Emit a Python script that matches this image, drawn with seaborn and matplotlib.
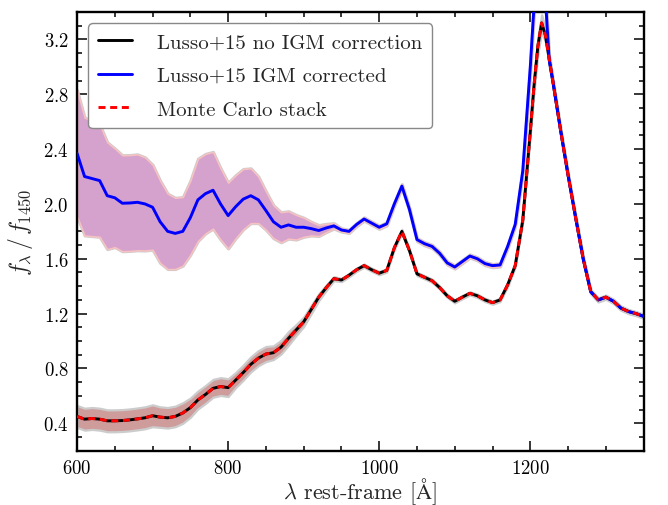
import numpy as np
import matplotlib
matplotlib.use("Agg")
import matplotlib.pyplot as plt
import seaborn as sns
from matplotlib.ticker import MultipleLocator

# ---------------- data ----------------
wave = [600, 610, 620, 630, 640, 650, 660, 670, 680, 690,
        700, 710, 720, 730, 740, 750, 760, 770, 780, 790,
        800, 810, 820, 830, 840, 850, 860, 870, 880, 890,
        900, 910, 920, 930, 940, 950, 960, 970, 980, 990,
        1000, 1010, 1020, 1030, 1040, 1050, 1060, 1070, 1080, 1090,
        1100, 1110, 1120, 1130, 1140, 1150, 1160, 1170, 1180, 1190,
        1200, 1205, 1210, 1215, 1220, 1225, 1230, 1240, 1250, 1260,
        1270, 1280, 1290, 1300, 1310, 1320, 1330, 1340, 1350]

flux_no_igm = [0.45, 0.43, 0.435, 0.43, 0.418, 0.418, 0.42, 0.425, 0.432, 0.44,
               0.455, 0.445, 0.44, 0.45, 0.475, 0.514, 0.57, 0.61, 0.655, 0.668,
               0.66, 0.715, 0.77, 0.83, 0.875, 0.905, 0.915, 0.955, 1.02, 1.08,
               1.14, 1.23, 1.32, 1.39, 1.455, 1.445, 1.48, 1.52, 1.55, 1.52,
               1.495, 1.515, 1.68, 1.80, 1.66, 1.49, 1.465, 1.44, 1.39, 1.33,
               1.29, 1.32, 1.348, 1.33, 1.30, 1.28, 1.30, 1.41, 1.55, 1.88,
               2.53, 2.87, 3.15, 3.32, 3.23, 3.06, 2.89, 2.54, 2.21, 1.90,
               1.60, 1.36, 1.30, 1.32, 1.29, 1.24, 1.215, 1.20, 1.18]

flux_igm = [2.37, 2.20, 2.185, 2.17, 2.06, 2.045, 2.005, 2.007, 2.012, 2.0,
            1.976, 1.87, 1.80, 1.785, 1.80, 1.90, 2.03, 2.075, 2.10, 2.0,
            1.915, 1.98, 2.035, 2.06, 2.03, 1.952, 1.87, 1.83, 1.847, 1.83,
            1.83, 1.82, 1.806, 1.825, 1.84, 1.81, 1.80, 1.85, 1.89, 1.86,
            1.83, 1.855, 2.0, 2.13, 1.96, 1.74, 1.71, 1.69, 1.64, 1.57,
            1.54, 1.58, 1.62, 1.60, 1.565, 1.55, 1.555, 1.69, 1.85, 2.24,
            3.0, 3.45, 3.85, 3.95, 3.5, 3.05, 2.89, 2.54, 2.21, 1.90,
            1.60, 1.36, 1.30, 1.32, 1.29, 1.24, 1.215, 1.20, 1.18]

err_no_igm = [0.08, 0.08, 0.08, 0.08, 0.08, 0.08, 0.08, 0.08, 0.08, 0.08,
              0.08, 0.075, 0.075, 0.075, 0.075, 0.07, 0.065, 0.065, 0.065, 0.065,
              0.065, 0.055, 0.055, 0.055, 0.055, 0.055, 0.05, 0.05, 0.05, 0.04,
              0.035, 0.03, 0.025, 0.02, 0.015, 0.012, 0.012, 0.012, 0.012, 0.012,
              0.012, 0.012, 0.012, 0.015, 0.012, 0.012, 0.012, 0.012, 0.012, 0.012,
              0.012, 0.012, 0.012, 0.012, 0.012, 0.012, 0.012, 0.012, 0.012, 0.015,
              0.03, 0.05, 0.06, 0.06, 0.05, 0.03, 0.012, 0.012, 0.012, 0.012,
              0.012, 0.012, 0.012, 0.012, 0.012, 0.012, 0.012, 0.012, 0.012]

err_igm = [0.46, 0.43, 0.42, 0.41, 0.39, 0.36, 0.35, 0.35, 0.35, 0.34,
           0.31, 0.30, 0.275, 0.26, 0.25, 0.27, 0.30, 0.29, 0.28, 0.26,
           0.24, 0.23, 0.22, 0.20, 0.17, 0.14, 0.12, 0.11, 0.10, 0.09,
           0.07, 0.05, 0.04, 0.03, 0.02, 0.012, 0.012, 0.012, 0.012, 0.012,
           0.012, 0.012, 0.012, 0.015, 0.012, 0.012, 0.012, 0.012, 0.012, 0.012,
           0.012, 0.012, 0.012, 0.012, 0.012, 0.012, 0.012, 0.012, 0.012, 0.02,
           0.04, 0.05, 0.05, 0.05, 0.05, 0.03, 0.012, 0.012, 0.012, 0.012,
           0.012, 0.012, 0.012, 0.012, 0.012, 0.012, 0.012, 0.012, 0.012]

labels = ["Lusso+15 no IGM correction", "Lusso+15 IGM corrected", "Monte Carlo stack"]
x_ticks = [600, 800, 1000, 1200]
y_ticks = [0.4, 0.8, 1.2, 1.6, 2.0, 2.4, 2.8, 3.2]

# ---------------- style ----------------
sns.set_style("ticks")
plt.rcParams["font.family"] = ["cmr10", "DejaVu Serif"]
plt.rcParams["mathtext.fontset"] = "cm"
plt.rcParams["axes.formatter.use_mathtext"] = True
plt.rcParams["axes.unicode_minus"] = False

fig = plt.figure(figsize=(6.68, 5.06), dpi=100)
ax = fig.add_axes([0.1153, 0.1073, 0.8482, 0.867])

w = np.array(wave)
fn = np.array(flux_no_igm)
fi = np.array(flux_igm)
en = np.array(err_no_igm)
ei = np.array(err_igm)

# bands
ax.fill_between(w, fi - ei, fi + ei, facecolor="#d4a2cc", edgecolor="#cccccc",
                linewidth=2.2, zorder=1)
ax.fill_between(w, fi - ei, fi + ei, facecolor="#d4a2cc", edgecolor="#f8c2c2",
                linewidth=1.1, zorder=1.1)
ax.fill_between(w, fn - en, fn + en, facecolor="#cf9c9c", edgecolor="#cccccc",
                linewidth=1.6, zorder=1.2)

# lines
sns.lineplot(x=w, y=fn, ax=ax, color="black", lw=2.1, label=labels[0], zorder=3)
sns.lineplot(x=w, y=fi, ax=ax, color="blue", lw=2.1, label=labels[1], zorder=3.1)
sns.lineplot(x=w, y=fn, ax=ax, color="red", lw=2.1, label=labels[2], zorder=3.2)
ax.lines[-1].set_dashes((2.4, 1.6))

ax.set_xlim(600, 1350)
ax.set_ylim(0.2, 3.4)
ax.set_xticks(x_ticks)
ax.set_yticks(y_ticks)
ax.xaxis.set_minor_locator(MultipleLocator(50))
ax.yaxis.set_minor_locator(MultipleLocator(0.1))
ax.tick_params(which="both", direction="in", top=True, right=True, labelsize=13.5,
               width=1.1, colors="black")
ax.tick_params(which="major", length=7, pad=6)
ax.tick_params(which="minor", length=3.5)
for s in ax.spines.values():
    s.set_linewidth(1.7)
    s.set_color("black")

ax.set_xlabel(r"$\lambda$ rest-frame [$\mathrm{\AA}$]", fontsize=16, labelpad=-1)
ax.set_ylabel(r"$f_\lambda\,/\,f_{1450}$", fontsize=17, labelpad=6)

leg = ax.legend(loc="upper left", fontsize=15, frameon=True, fancybox=True,
                framealpha=1, edgecolor="#888888", handlelength=1.65,
                handletextpad=1.2, labelspacing=0.72, borderaxespad=0.55,
                borderpad=0.45)
leg.get_frame().set_linewidth(1.0)

fig.savefig("out.png", dpi=100)
